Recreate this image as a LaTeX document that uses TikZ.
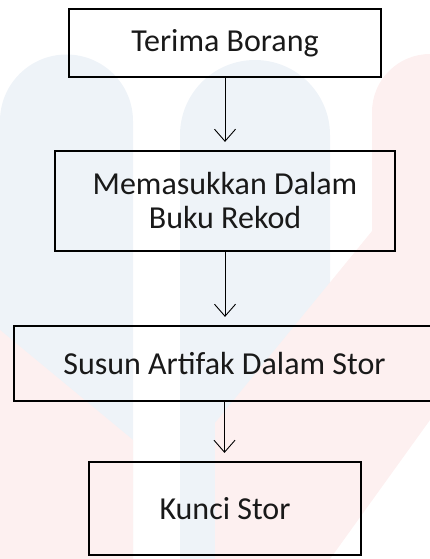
\documentclass[tikz,border=0pt]{standalone}
\usepackage{fontspec}
\setmainfont{Carlito}
\usetikzlibrary{arrows.meta}

\definecolor{markblue}{HTML}{EEF3F8}
\definecolor{markpink}{HTML}{FDF0F0}

\tikzset{
  flowbox/.style={draw, line width=2.2pt, fill=none, inner sep=0pt, align=center,
    font=\fontsize{32}{34}\selectfont, text=black!90},
  flowline/.style={->, line width=0.9pt, shorten >=8pt}
}

\begin{document}
\begin{tikzpicture}[x=1pt, y=-1pt, >={Straight Barb[length=12pt,width=21pt,line width=0.9pt]}]
  \useasboundingbox (0,0) rectangle (430,559);

  % faint watermark behind the chart
  \fill[markblue] (0,559) -- (0,121) arc[start angle=180, end angle=360, radius=66.5] -- (133,559) -- cycle;
  \fill[markblue] (180,559) -- (180,135) arc[start angle=180, end angle=360, radius=75] -- (330,559) -- cycle;
  \fill[markpink] (372,300) -- (372,112) arc[start angle=180, end angle=270, radius=58] -- (430,54) -- (430,300) -- cycle;
  \fill[markpink] (0,330) -- (133,440) -- (133,559) -- (0,559) -- cycle;
  \fill[markpink] (215,423) -- (332,280) -- (430,160) -- (430,420) -- (330,559) -- (215,559) -- cycle;

  % steps
  \node [flowbox, minimum width=312pt, minimum height=68pt] (terima) at (225,43) {Terima Borang};
  \node [flowbox, minimum width=340pt, minimum height=100pt] (rekod) at (225,201) {Memasukkan Dalam\\Buku Rekod};
  \node [flowbox, minimum width=421pt, minimum height=75pt] (susun) at (224.5,363.5) {Susun Artifak Dalam Stor};
  \node [flowbox, minimum width=272pt, minimum height=93pt] (kunci) at (225,508.5) {Kunci Stor};

  \foreach \a/\b in {terima/rekod, rekod/susun, susun/kunci}
    \draw [flowline] (\a.south) -- (\a.south |- \b.north);

\end{tikzpicture}
\end{document}
